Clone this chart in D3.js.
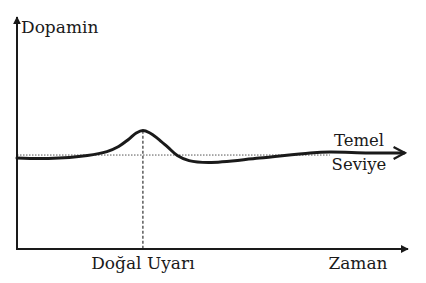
<!DOCTYPE html>
<html>
<head>
<meta charset="utf-8">
<script src="https://cdn.jsdelivr.net/npm/d3@7"></script>
<style>
  body { margin: 0; background: #fff; }
</style>
</head>
<body>
<script>
'use strict';
// dopamine response over time
const time     = [0, 8, 18, 23, 26, 28.5, 30.5, 32.2, 34, 36, 38.5, 41, 44, 49, 62, 75, 80, 90, 99];
const dopamine = [39.2, 39.0, 40.3, 42.0, 44.2, 47.2, 50.0, 51.1, 50.0, 47.6, 44.0, 40.3, 38.1, 37.3, 39.2, 41.4, 41.8, 41.4, 41.4];
const baseline = 40.5;
const stimulus = 32.2;
const xLabels = ["Doğal Uyarı", "Zaman"];
const yLabel = "Dopamin";
const baseLabel = ["Temel", "Seviye"];

(function() {
  const font = "'DejaVu Serif', 'Liberation Serif', serif";
  const svg = d3.select('body').append('svg')
    .attr('width', 426)
    .attr('height', 283);

  const x = d3.scaleLinear().domain([0, 100]).range([17, 408]);
  const y = d3.scaleLinear().domain([0, 100]).range([249, 17]);

  const defs = svg.append('defs');
  // filled arrowhead for axes
  defs.append('marker')
    .attr('id', 'axisArrow')
    .attr('viewBox', '0 0 10 10')
    .attr('refX', 9).attr('refY', 5)
    .attr('markerWidth', 4).attr('markerHeight', 4)
    .attr('orient', 'auto')
    .append('path')
      .attr('d', 'M0,0 L10,5 L0,10 Z')
      .attr('fill', '#1a1a1a');
  // open chevron for the curve
  defs.append('marker')
    .attr('id', 'curveArrow')
    .attr('viewBox', '0 0 10 10')
    .attr('refX', 8).attr('refY', 5)
    .attr('markerWidth', 5).attr('markerHeight', 5)
    .attr('orient', 'auto')
    .append('path')
      .attr('d', 'M1,1 L8.5,5 L1,9')
      .attr('fill', 'none')
      .attr('stroke', '#1a1a1a')
      .attr('stroke-width', 1.5);

  // dotted guide lines
  svg.append('line')
    .attr('x1', x(0)).attr('x2', x(80))
    .attr('y1', y(baseline)).attr('y2', y(baseline))
    .attr('stroke', '#555')
    .attr('stroke-width', 1)
    .attr('stroke-dasharray', '1.5,1.5');

  svg.append('line')
    .attr('x1', x(stimulus)).attr('x2', x(stimulus))
    .attr('y1', y(51)).attr('y2', y(0))
    .attr('stroke', '#333')
    .attr('stroke-width', 1.2)
    .attr('stroke-dasharray', '3,2');

  // axes
  svg.append('line')
    .attr('x1', x(0)).attr('x2', x(0))
    .attr('y1', y(0)).attr('y2', y(100))
    .attr('stroke', '#1a1a1a')
    .attr('stroke-width', 2)
    .attr('marker-end', 'url(#axisArrow)');

  svg.append('line')
    .attr('x1', x(0) - 1).attr('x2', x(100))
    .attr('y1', y(0)).attr('y2', y(0))
    .attr('stroke', '#1a1a1a')
    .attr('stroke-width', 2)
    .attr('marker-end', 'url(#axisArrow)');

  // dopamine curve
  const pts = time.map((t, i) => [t, dopamine[i]]);
  const line = d3.line()
    .x(d => x(d[0]))
    .y(d => y(d[1]))
    .curve(d3.curveCatmullRom.alpha(0.5));

  svg.append('path')
    .datum(pts)
    .attr('d', line)
    .attr('fill', 'none')
    .attr('stroke', '#1a1a1a')
    .attr('stroke-width', 3)
    .attr('stroke-linecap', 'round')
    .attr('marker-end', 'url(#curveArrow)');

  // labels
  svg.append('text')
    .attr('x', 21).attr('y', 33)
    .attr('font-family', font)
    .attr('font-size', 17)
    .attr('fill', '#1a1a1a')
    .text(yLabel);

  svg.append('text')
    .attr('x', x(stimulus)).attr('y', 269)
    .attr('text-anchor', 'middle')
    .attr('font-family', font)
    .attr('font-size', 17)
    .attr('fill', '#1a1a1a')
    .text(xLabels[0]);

  svg.append('text')
    .attr('x', 358).attr('y', 269)
    .attr('text-anchor', 'middle')
    .attr('font-family', font)
    .attr('font-size', 17)
    .attr('fill', '#1a1a1a')
    .text(xLabels[1]);

  svg.selectAll('.base')
    .data(baseLabel)
    .enter()
    .append('text')
      .attr('class', 'base')
      .attr('x', 359)
      .attr('y', (d, i) => 146 + i * 24)
      .attr('text-anchor', 'middle')
      .attr('font-family', font)
      .attr('font-size', 16.5)
      .attr('fill', '#1a1a1a')
      .text(d => d);
})();
</script>
</body>
</html>
